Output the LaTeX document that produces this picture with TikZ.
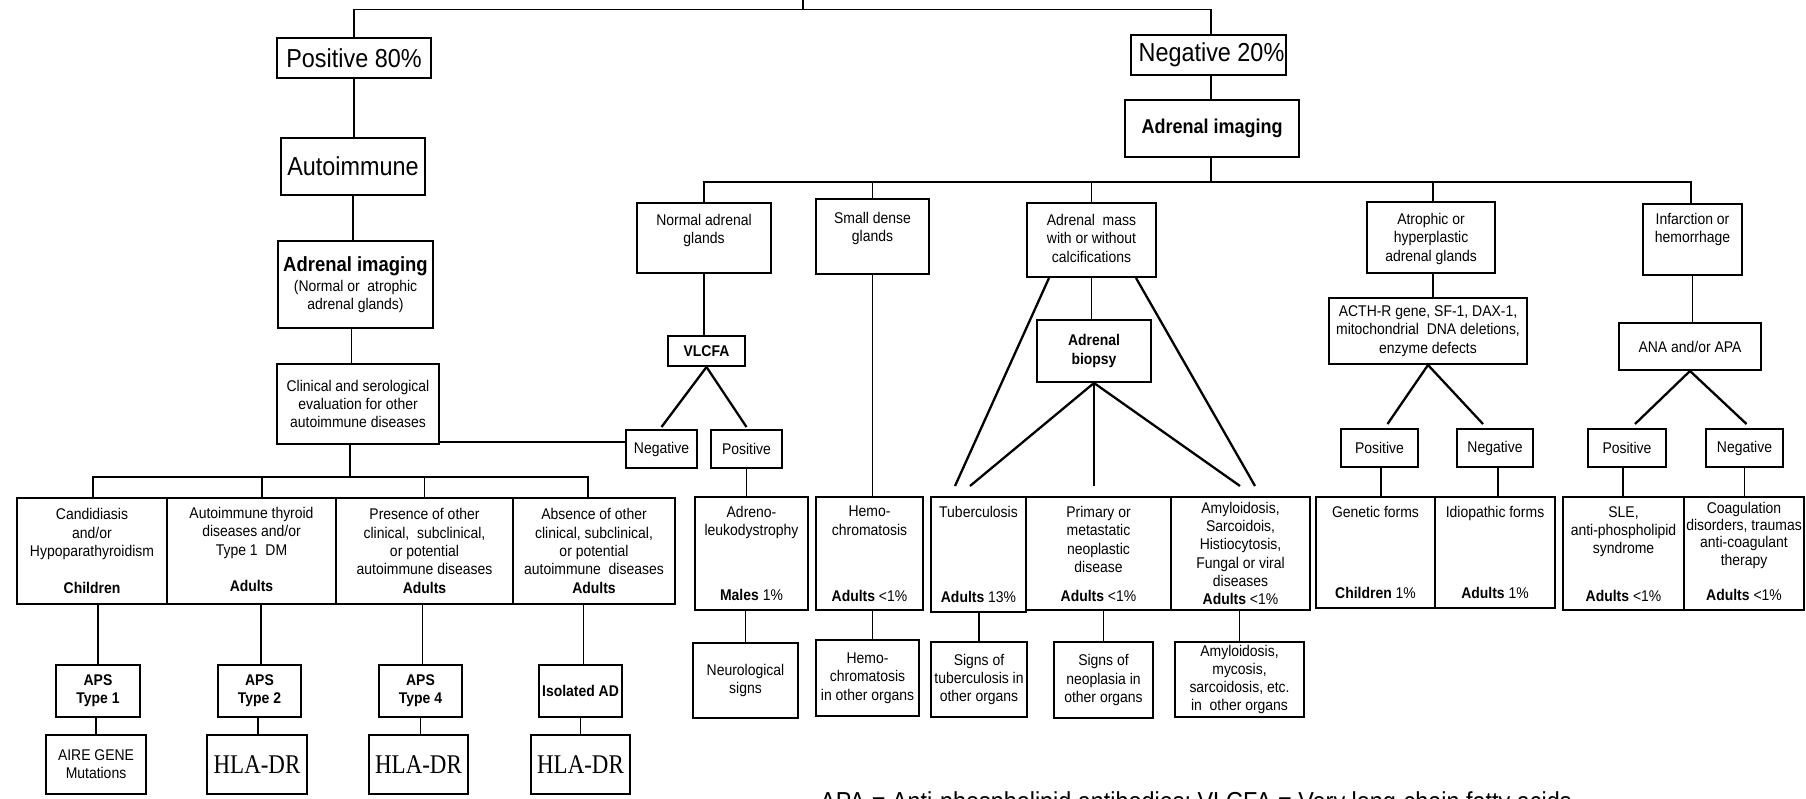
\documentclass[tikz,border=0pt]{standalone}
\usepackage{fontspec}
\setmainfont{Liberation Sans}[FakeStretch=0.9]
\newfontfamily\tms{Liberation Serif}[FakeStretch=0.85]
\usetikzlibrary{fit,calc}
\tikzset{
  box/.style={draw, line width=2pt, inner sep=0pt},
  txt/.style={font=\fontsize{15.5}{18.3}\selectfont, align=center, inner sep=0pt},
  txtb/.style={font=\fontsize{15.5}{18.3}\selectfont\bfseries, align=center, inner sep=0pt},
  big/.style={font=\fontsize{26}{30}\selectfont, inner sep=0pt},
  bigb/.style={font=\fontsize{20}{22}\selectfont\bfseries, inner sep=0pt},
  hla/.style={font=\tms\fontsize{27}{30}\selectfont, inner sep=0pt},
  ln/.style={line width=1.9pt},
  sl/.style={line width=2.3pt},
}
\newcommand\bx[5]{\node[box, fit={(#2,#3) (#4,#5)}] (#1) {};}
\begin{document}
\begin{tikzpicture}[x=1pt,y=-1pt]
\fill[white] (0,0) rectangle (1806,799);
\useasboundingbox (0,0) rectangle (1806,799);

% ---------- top ----------
\bx{pos}{277}{38}{431}{78}
\node[big] (posT) at (pos) {Positive 80\%};
\bx{neg}{1131}{35}{1286}{75}
\node[big] (negT) at ([xshift=3pt]neg.center) {Negative 20\%};
\bx{auto}{281}{138}{425}{195}
\node[big] (autoT) at (auto) {Autoimmune};
\bx{adrL}{278}{241}{433}{328}
\node[txt] (adrLT) at (adrL) {{\fontsize{20.5}{22}\selectfont\bfseries Adrenal imaging}\\[2pt](Normal or~ atrophic\\adrenal glands)};
\bx{clin}{277}{364}{439}{444}
\node[txt] (clinT) at (clin) {Clinical and serological\\evaluation for other\\autoimmune diseases};

% ---------- left row ----------
\bx{cand}{17}{498}{167}{604}
\node[txt] (candT) at (cand) {Candidiasis\\and/or\\Hypoparathyroidism\\[18.3pt]\textbf{Children}};
\bx{thy}{167}{498}{336}{604}
\node[txt] (thyT) at ([yshift=1.5pt]thy.center) {Autoimmune thyroid\\diseases and/or\\Type 1~ DM\\[18.3pt]\textbf{Adults}};
\bx{pres}{336}{498}{513}{604}
\node[txt] (presT) at (pres) {Presence of other\\clinical,~ subclinical,\\or potential\\autoimmune diseases\\\textbf{Adults}};
\bx{abs}{513}{498}{675}{604}
\node[txt] (absT) at (abs) {Absence of other\\clinical, subclinical,\\or potential\\autoimmune~ diseases\\\textbf{Adults}};

\bx{aps1}{56}{665}{140}{717}
\node[txtb] (aps1T) at (aps1) {APS\\Type 1};
\bx{aps2}{218}{665}{301}{717}
\node[txtb] (aps2T) at (aps2) {APS\\Type 2};
\bx{aps4}{379}{665}{462}{717}
\node[txtb] (aps4T) at (aps4) {APS\\Type 4};
\bx{iso}{539}{665}{622}{717}
\node[txtb] (isoT) at (iso) {Isolated AD};
\bx{aire}{46}{735}{146}{794}
\node[txt] (aireT) at (aire) {AIRE GENE\\Mutations};
\bx{hla1}{207}{735}{307}{794}
\node[hla] (hla1T) at (hla1) {HLA-DR};
\bx{hla2}{369}{735}{468}{794}
\node[hla] (hla2T) at (hla2) {HLA-DR};
\bx{hla3}{531}{735}{630}{794}
\node[hla] (hla3T) at (hla3) {HLA-DR};

% ---------- right side ----------
\bx{adrR}{1125}{100}{1299}{157}
\node[bigb] (adrRT) at (adrR) {Adrenal imaging};

\bx{nag}{637}{203}{771}{273}
\node[txt, anchor=north] (nagT) at ([yshift=-12pt]nag.north) {Normal adrenal\\glands};
\bx{sdg}{816}{199}{929}{274}
\node[txt, anchor=north] (sdgT) at ([yshift=-14pt]sdg.north) {Small dense\\glands};
\bx{mass}{1027}{203}{1156}{277}
\node[txt, anchor=north] (massT) at ([yshift=-12pt]mass.north) {Adrenal~ mass\\with or without\\calcifications};
\bx{atr}{1367}{202}{1495}{273}
\node[txt, anchor=north] (atrT) at ([yshift=-12pt]atr.north) {Atrophic or\\hyperplastic\\adrenal glands};
\bx{inf}{1643}{204}{1742}{275}
\node[txt, anchor=north] (infT) at ([yshift=-10pt]inf.north) {Infarction or\\hemorrhage};

\bx{vl}{668}{336}{745}{366}
\node[txtb] (vlT) at (vl) {VLCFA};
\bx{vneg}{626}{430}{697}{468}
\node[txt] (vnegT) at (vneg) {Negative};
\bx{vpos}{711}{430}{782}{468}
\node[txt] (vposT) at (vpos) {Positive};

\bx{bio}{1037}{320}{1151}{382}
\node[txtb] (bioT) at (bio) {Adrenal\\biopsy};

\bx{acth}{1329}{298}{1527}{364}
\node[txt] (acthT) at (acth) {ACTH-R gene, SF-1, DAX-1,\\mitochondrial~~DNA deletions,\\enzyme defects};
\bx{ana}{1619}{323}{1761}{370}
\node[txt] (anaT) at (ana) {ANA and/or APA};
\bx{apos}{1341}{429}{1418}{467}
\node[txt] (aposT) at (apos) {Positive};
\bx{aneg}{1457}{429}{1533}{467}
\node[txt] (anegT) at (aneg) {Negative};
\bx{ipos}{1588}{429}{1666}{467}
\node[txt] (iposT) at (ipos) {Positive};
\bx{ineg}{1706}{429}{1783}{467}
\node[txt] (inegT) at (ineg) {Negative};

% row 3
\bx{adr}{695}{497}{808}{610}
\node[txt, anchor=north] (adrT) at ([yshift=-10pt]adr.north) {Adreno-\\leukodystrophy};
\node[txt, anchor=base] (adrB) at ([yshift=11pt]adr.south) {\textbf{Males} 1\%};
\bx{hemo}{816}{497}{923}{610}
\node[txt, anchor=north] (hemoT) at ([yshift=-10pt]hemo.north) {Hemo-\\chromatosis};
\node[txt, anchor=base] (hemoB) at ([yshift=10pt]hemo.south) {\textbf{Adults} <1\%};
\bx{tb}{931}{497}{1026}{612}
\node[txt, anchor=north] (tbT) at ([yshift=-10pt]tb.north) {Tuberculosis};
\node[txt, anchor=base] (tbB) at ([yshift=11pt]tb.south) {\textbf{Adults} 13\%};
\bx{prim}{1026}{497}{1171}{610}
\node[txt, anchor=north] (primT) at ([yshift=-10pt]prim.north) {Primary or\\metastatic\\neoplastic\\disease};
\node[txt, anchor=base] (primB) at ([yshift=10pt]prim.south) {\textbf{Adults} <1\%};
\bx{amy}{1171}{497}{1310}{610}
\node[txt] (amyT) at (amy) {Amyloidosis,\\Sarcoidois,\\Histiocytosis,\\Fungal or viral\\diseases\\\textbf{Adults} <1\%};
\bx{gen}{1316}{497}{1435}{608}
\node[txt, anchor=north] (genT) at ([yshift=-10pt]gen.north) {Genetic forms};
\node[txt, anchor=base] (genB) at ([yshift=11pt]gen.south) {\textbf{Children} 1\%};
\bx{idio}{1435}{497}{1555}{608}
\node[txt, anchor=north] (idioT) at ([yshift=-10pt]idio.north) {Idiopathic forms};
\node[txt, anchor=base] (idioB) at ([yshift=11pt]idio.south) {\textbf{Adults} 1\%};
\bx{sle}{1563}{497}{1684}{610}
\node[txt, anchor=north] (sleT) at ([yshift=-10pt]sle.north) {SLE,\\anti-phospholipid\\syndrome};
\node[txt, anchor=base] (sleB) at ([yshift=10pt]sle.south) {\textbf{Adults} <1\%};
\bx{coag}{1684}{497}{1804}{610}
\node[txt, anchor=north, font=\fontsize{15.5}{17.2}\selectfont] (coagT) at ([yshift=-6pt]coag.north) {Coagulation\\disorders, traumas\\anti-coagulant\\therapy};
\node[txt, anchor=base] (coagB) at ([yshift=11pt]coag.south) {\textbf{Adults} <1\%};

% row 4
\bx{neuro}{693}{643}{798}{718}
\node[txt] (neuroT) at (neuro) {Neurological\\signs};
\bx{hemo2}{816}{640}{919}{716}
\node[txt] (hemo2T) at (hemo2) {Hemo-\\chromatosis\\in other organs};
\bx{stb}{931}{642}{1027}{717}
\node[txt] (stbT) at (stb) {Signs of\\tuberculosis in\\other organs};
\bx{sneo}{1054}{642}{1153}{718}
\node[txt] (sneoT) at (sneo) {Signs of\\neoplasia in\\other organs};
\bx{amy2}{1175}{642}{1304}{717}
\node[txt] (amy2T) at (amy2) {Amyloidosis,\\mycosis,\\sarcoidosis, etc.\\in~~other organs};

% bottom note (cut by the page edge, as in the reference)
\node[anchor=base west, inner sep=0pt, font=\fontsize{26}{30}\selectfont] (note) at (820,810) {APA = Anti-phospholipid antibodies; VLCFA = Very long-chain fatty acids};

% ---------- connectors ----------
\coordinate (top0) at (803,0);
\coordinate (tb0) at (803,9.5);
\draw[ln] (top0) -- (tb0);
\draw[ln] (pos.north) |- (tb0) -| ([xshift=2.5pt]neg.north);
\draw[ln] (pos.south) -- (pos.south |- auto.north);
\draw[ln] (auto.south) -- (auto.south |- adrL.north);
\coordinate (adrLx) at ([xshift=-4pt]adrL.south);
\draw[ln] (adrLx) -- (adrLx |- clin.north);
\coordinate (cj) at (350,477);
\coordinate (clx) at ([xshift=-8pt]clin.south);
\draw[ln] (clx) -- (clx |- cj);
\draw[ln] ([xshift=1pt]cand.north) |- (cj) -| ([xshift=-6pt]abs.north);
\coordinate (thyx) at ([xshift=10.5pt]thy.north);
\draw[ln] (thyx) -- (thyx |- cj);
\draw[ln] (pres.north) -- (pres.north |- cj);
\draw[ln] (aps1.north |- cand.south) -- (aps1.north);
\draw[ln] ([xshift=-2pt]aps1.south) -- ([xshift=-2pt]aps1.south |- aire.north);
\draw[ln] ([xshift=1.5pt]aps2.north |- thy.south) -- ([xshift=1.5pt]aps2.north);
\draw[ln] ([xshift=-1.5pt]aps2.south) -- ([xshift=-1.5pt]aps2.south |- hla1.north);
\draw[ln] ([xshift=2pt]aps4.north |- pres.south) -- ([xshift=2pt]aps4.north);
\draw[ln] (aps4.south) -- (aps4.south |- hla2.north);
\coordinate (isox) at ([xshift=3pt]iso.north);
\draw[ln] (isox |- abs.south) -- (isox);
\draw[ln] (iso.south) -- (iso.south |- hla3.north);
\coordinate (ce) at ([yshift=3pt]clin.south east);
\draw[ln] (ce) -- (ce -| vneg.west);

\coordinate (negx) at ([xshift=2.5pt]neg.south);
\draw[ln] (negx) -- (negx |- adrR.north);
\coordinate (rj) at (1211,182);
\draw[ln] ([xshift=-1pt]adrR.south) -- ([xshift=-1pt]adrR.south |- rj);
\draw[ln] (nag.north) |- (rj) -| ([xshift=-1.5pt]inf.north);
\draw[ln] (sdg.north) -- (sdg.north |- rj);
\draw[ln] (mass.north) -- (mass.north |- rj);
\draw[ln] ([xshift=2pt]atr.north) -- ([xshift=2pt]atr.north |- rj);
\draw[ln] (nag.south) -- (nag.south |- vl.north);
\draw[sl] (vl.south) -- ([yshift=2pt]vneg.north);
\draw[sl] (vl.south) -- ([yshift=2pt]vpos.north);
\draw[ln] (vpos.south) -- (vpos.south |- adr.north);
\draw[ln] (sdg.south) -- (sdg.south |- hemo.north);
\draw[ln] (mass.south) -- (mass.south |- bio.north);
\draw[sl] ([xshift=23pt]mass.south west) -- ([xshift=25pt,yshift=10pt]tb.north west);
\draw[sl] ([xshift=-21pt]mass.south east) -- ([xshift=85pt,yshift=10pt]amy.north west);
\draw[sl] (bio.south) -- ([xshift=-8.5pt,yshift=10pt]tb.north);
\coordinate (pj) at (bio.south |- prim.north);
\draw[ln] (bio.south) -- ([yshift=10pt]pj);
\draw[sl] (bio.south) -- ([xshift=70pt,yshift=10pt]amy.north west);
\draw[ln] (neuro.north |- adr.south) -- (neuro.north);
\draw[ln] (sdg.south |- hemo.south) -- (sdg.south |- hemo2.north);
\draw[ln] (stb.north |- tb.south) -- (stb.north);
\draw[ln] (sneo.north |- prim.south) -- (sneo.north);
\draw[ln] (amy2.north |- amy.south) -- (amy2.north);
\draw[ln] ([xshift=2pt]atr.south) -- ([xshift=2pt]atr.south |- acth.north);
\draw[sl] (acth.south) -- ([xshift=8pt,yshift=4pt]apos.north);
\draw[sl] (acth.south) -- ([xshift=-12pt,yshift=4pt]aneg.north);
\draw[ln] ([xshift=1.5pt]apos.south) -- ([xshift=1.5pt]apos.south |- gen.north);
\draw[ln] ([xshift=3pt]aneg.south) -- ([xshift=3pt]aneg.south |- idio.north);
\draw[ln] (inf.south) -- (inf.south |- ana.north);
\draw[sl] (ana.south) -- ([xshift=8pt,yshift=4pt]ipos.north);
\draw[sl] (ana.south) -- ([xshift=2pt,yshift=4pt]ineg.north);
\draw[ln] ([xshift=-4pt]ipos.south) -- ([xshift=-4pt]ipos.south |- sle.north);
\draw[ln] (ineg.south) -- (ineg.south |- coag.north);
\end{tikzpicture}
\end{document}
